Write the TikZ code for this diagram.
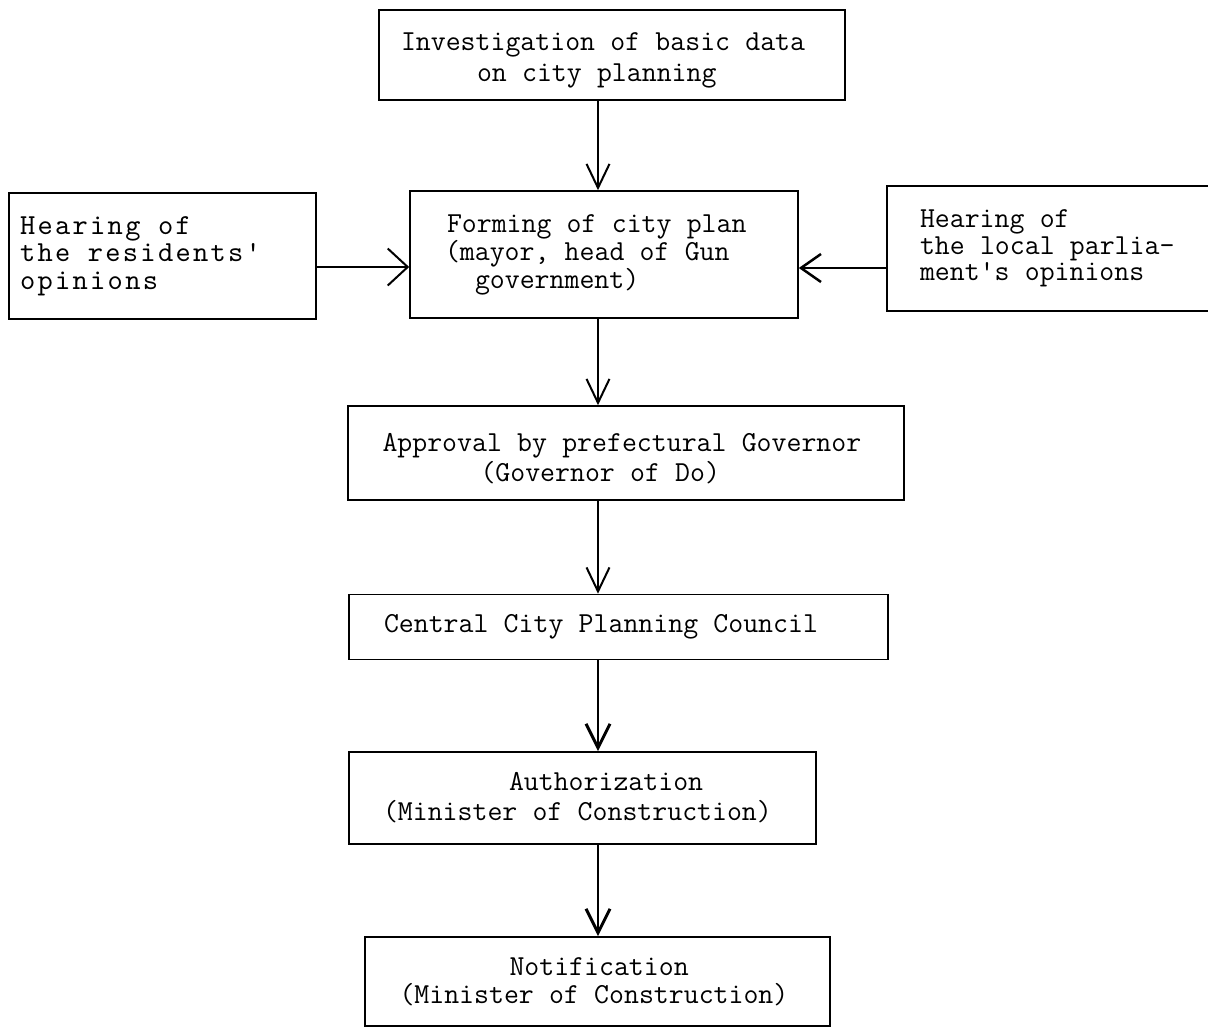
\documentclass[tikz,border=0pt]{standalone}
\usepackage{fontspec}
\newfontfamily\picafont[LetterSpace=8]{lmmono10-regular.otf}
\usetikzlibrary{arrows.meta}
\newcommand\ttspace{\spaceskip 0.525em\relax\xspaceskip 0.525em\relax}
\newcommand\picaspace{\spaceskip 0.605em\relax\xspaceskip 0.605em\relax}
\let\curspace\ttspace
\newcommand\tline[1]{\mbox{\curspace#1}}
\begin{document}
\begin{tikzpicture}[x=1pt,y=-1pt,
  box/.style={draw, line width=1.6pt, inner sep=0pt, align=left},
  tt/.style={font=\fontsize{29}{#1}\selectfont\ttfamily\let\curspace\ttspace},
  pica/.style={font=\fontsize{29}{#1}\picafont\let\curspace\picaspace},
  arr/.style={line width=2pt, -{Straight Barb[length=24pt,width=23pt,line width=2pt]}},
  arrb/.style={line width=2.4pt, -{Straight Barb[length=24pt,width=24pt,line width=3pt]}},
]
\useasboundingbox (0,0) rectangle (1208,1029);

\node[box, tt=31, minimum width=466pt, minimum height=90pt, text width=422pt] (inv) at (612,55)
  {\tline{\rule{0pt}{28pt}Investigation of basic data}\\\tline{\hspace*{76pt}on city planning}};

\node[box, pica=27.5, minimum width=307pt, minimum height=126pt, text width=285pt] (res) at (162.5,256)
  {\tline{Hearing of}\\\tline{the residents'}\\\tline{opinions}};

\node[box, tt=28, minimum width=388pt, minimum height=127pt, text width=318pt] (form) at (604,254.5)
  {\tline{\hspace*{2pt}Forming of city plan}\\\tline{(mayor, head of Gun}\\\tline{\hspace*{30pt}government)}};

\node[box, tt=26.5, minimum width=328pt, minimum height=125pt, text width=262pt] (parl) at (1051,248.5)
  {\tline{Hearing of}\\\tline{the local parlia-}\\\tline{ment's opinions}};

\node[box, tt=30, minimum width=556pt, minimum height=94pt, text width=487pt] (appr) at (626,453)
  {\tline{\rule{0pt}{30pt}Approval by prefectural Governor}\\\tline{\hspace*{98pt}(Governor of Do)}};

\node[box, tt=29, minimum width=539pt, minimum height=65pt, text width=469pt] (cent) at (618.5,627)
  {\tline{Central City Planning Council}};

\node[box, tt=30, minimum width=467pt, minimum height=92pt, text width=399pt] (auth) at (582.5,798)
  {\tline{\hspace*{126pt}Authorization}\\\tline{(Minister of Construction)}};

\node[box, tt=28, minimum width=465pt, minimum height=89pt, text width=396pt] (notif) at (597.5,981.5)
  {\tline{\hspace*{110pt}Notification}\\\tline{(Minister of Construction)}};

\coordinate (ax) at (598,0);
\coordinate (hl) at (0,267);
\coordinate (hr) at (0,268);

\draw[arr] (inv.south -| ax) -- (form.north -| ax);
\draw[arr] (form.south -| ax) -- (appr.north -| ax);
\draw[arr] (appr.south -| ax) -- (cent.north -| ax);
\draw[arrb] (cent.south -| ax) -- (auth.north -| ax);
\draw[arrb] (auth.south -| ax) -- (notif.north -| ax);
\draw[arr, -{Straight Barb[length=20pt,width=37pt,line width=2pt]}] (res.east |- hl) -- (form.west |- hl);
\draw[arr, -{Straight Barb[length=20pt,width=28pt,line width=2.5pt]}] (parl.west |- hr) -- (form.east |- hr);
\end{tikzpicture}
\end{document}
